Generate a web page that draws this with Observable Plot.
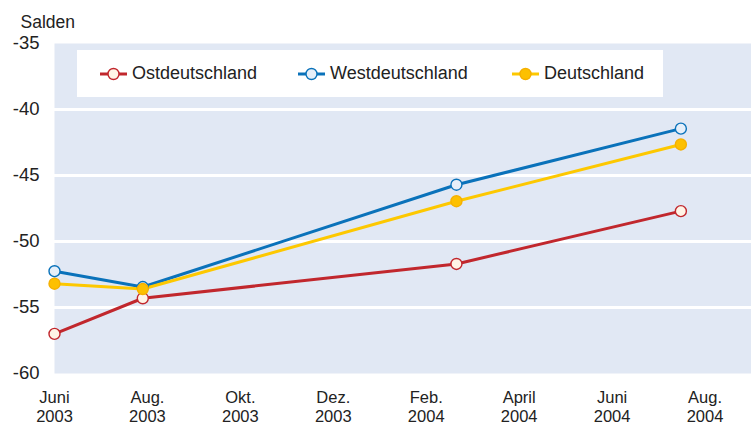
<!DOCTYPE html>
<html>
<head>
<meta charset="utf-8">
<script src="https://cdn.jsdelivr.net/npm/d3@7"></script>
<script src="https://cdn.jsdelivr.net/npm/@observablehq/plot@0.6"></script>
<style>
  body { margin: 0; background: #fff; font-family: "Liberation Sans", Arial, sans-serif; }
  #wrap { position: relative; width: 751px; height: 427px; }
  #legend { position: absolute; left: 77px; top: 50px; width: 586px; height: 47px; background: #fff; }
  .item { position: absolute; top: 0; height: 47px; display: flex; align-items: center; font-size: 18px; color: #222; }
  .item svg { margin-right: 5px; }
</style>
</head>
<body>
<div id="wrap"></div>
<script>
// ---- data ----
const seriesNames = ["Ostdeutschland", "Westdeutschland", "Deutschland"];
const surveyMonths = [0, 1.9, 8.65, 13.48];          // months after June 2003
const ost = [-57.0, -54.3, -51.7, -47.7];
const west = [-52.25, -53.45, -45.7, -41.45];
const deutschland = [-53.2, -53.6, -46.95, -42.65];
const tickMonths = [0, 2, 4, 6, 8, 10, 12, 14];
const tickLabels = ["Juni\n2003", "Aug.\n2003", "Okt.\n2003", "Dez.\n2003", "Feb.\n2004", "April\n2004", "Juni\n2004", "Aug.\n2004"];
const yTicks = [-35, -40, -45, -50, -55, -60];
const gridValues = [-40, -45, -50, -55];

const colors = { Ostdeutschland: "#c1272d", Westdeutschland: "#0a72ba", Deutschland: "#fdc800" };
const fills = { Ostdeutschland: "#fff4e6", Westdeutschland: "#e6eff9", Deutschland: "#fdc000" };
const strokes = { Ostdeutschland: "#c1272d", Westdeutschland: "#0a72ba", Deutschland: "#f5b000" };

const valuesBySeries = { Ostdeutschland: ost, Westdeutschland: west, Deutschland: deutschland };
const rows = seriesNames.flatMap(s => surveyMonths.map((m, i) => ({ series: s, month: m, value: valuesBySeries[s][i] })));

const chart = Plot.plot({
  width: 751,
  height: 427,
  marginLeft: 54,
  marginRight: 0,
  marginTop: 43,
  marginBottom: 54,
  style: { fontFamily: "Liberation Sans, Arial, sans-serif", color: "#222", background: "#fff" },
  x: { domain: [0, 15] },
  y: { domain: [-60, -35] },
  marks: [
    Plot.frame({ fill: "#e1e8f4", stroke: null }),
    Plot.ruleY(gridValues, { stroke: "#fff", strokeWidth: 3 }),
    Plot.axisY({ ticks: yTicks, tickSize: 0, tickPadding: 15, fontSize: 18.5, label: null, tickFormat: d => String(d) }),
    Plot.axisX({ ticks: tickMonths, tickSize: 0, tickPadding: 15, fontSize: 16.5, lineHeight: 1.2, label: null,
                 tickFormat: (d) => tickLabels[tickMonths.indexOf(d)] }),
    Plot.text(["Salden"], { frameAnchor: "top-left", dx: -34, dy: -21, textAnchor: "start", lineAnchor: "middle", fontSize: 17.5, fill: "#222" }),
    ...seriesNames.map(s => Plot.line(rows.filter(r => r.series === s), { x: "month", y: "value", stroke: colors[s], strokeWidth: 3 })),
    ...seriesNames.map(s => Plot.dot(rows.filter(r => r.series === s), { x: "month", y: "value", r: 5.5, fill: fills[s], stroke: strokes[s], strokeWidth: 1.4 }))
  ]
});

const wrap = document.getElementById("wrap");
wrap.appendChild(chart);

// legend (HTML overlay inside plot area)
const legend = document.createElement("div");
legend.id = "legend";
const legendLeft = [23, 221, 435];
seriesNames.forEach((s, i) => {
  const it = document.createElement("div");
  it.className = "item";
  it.style.left = legendLeft[i] + "px";
  it.innerHTML = `<svg width="27" height="14"><line x1="0" x2="27" y1="7" y2="7" stroke="${colors[s]}" stroke-width="3"/><circle cx="13.5" cy="7" r="5.5" fill="${fills[s]}" stroke="${strokes[s]}" stroke-width="1.4"/></svg><span>${s}</span>`;
  legend.appendChild(it);
});
wrap.appendChild(legend);
</script>
</body>
</html>
